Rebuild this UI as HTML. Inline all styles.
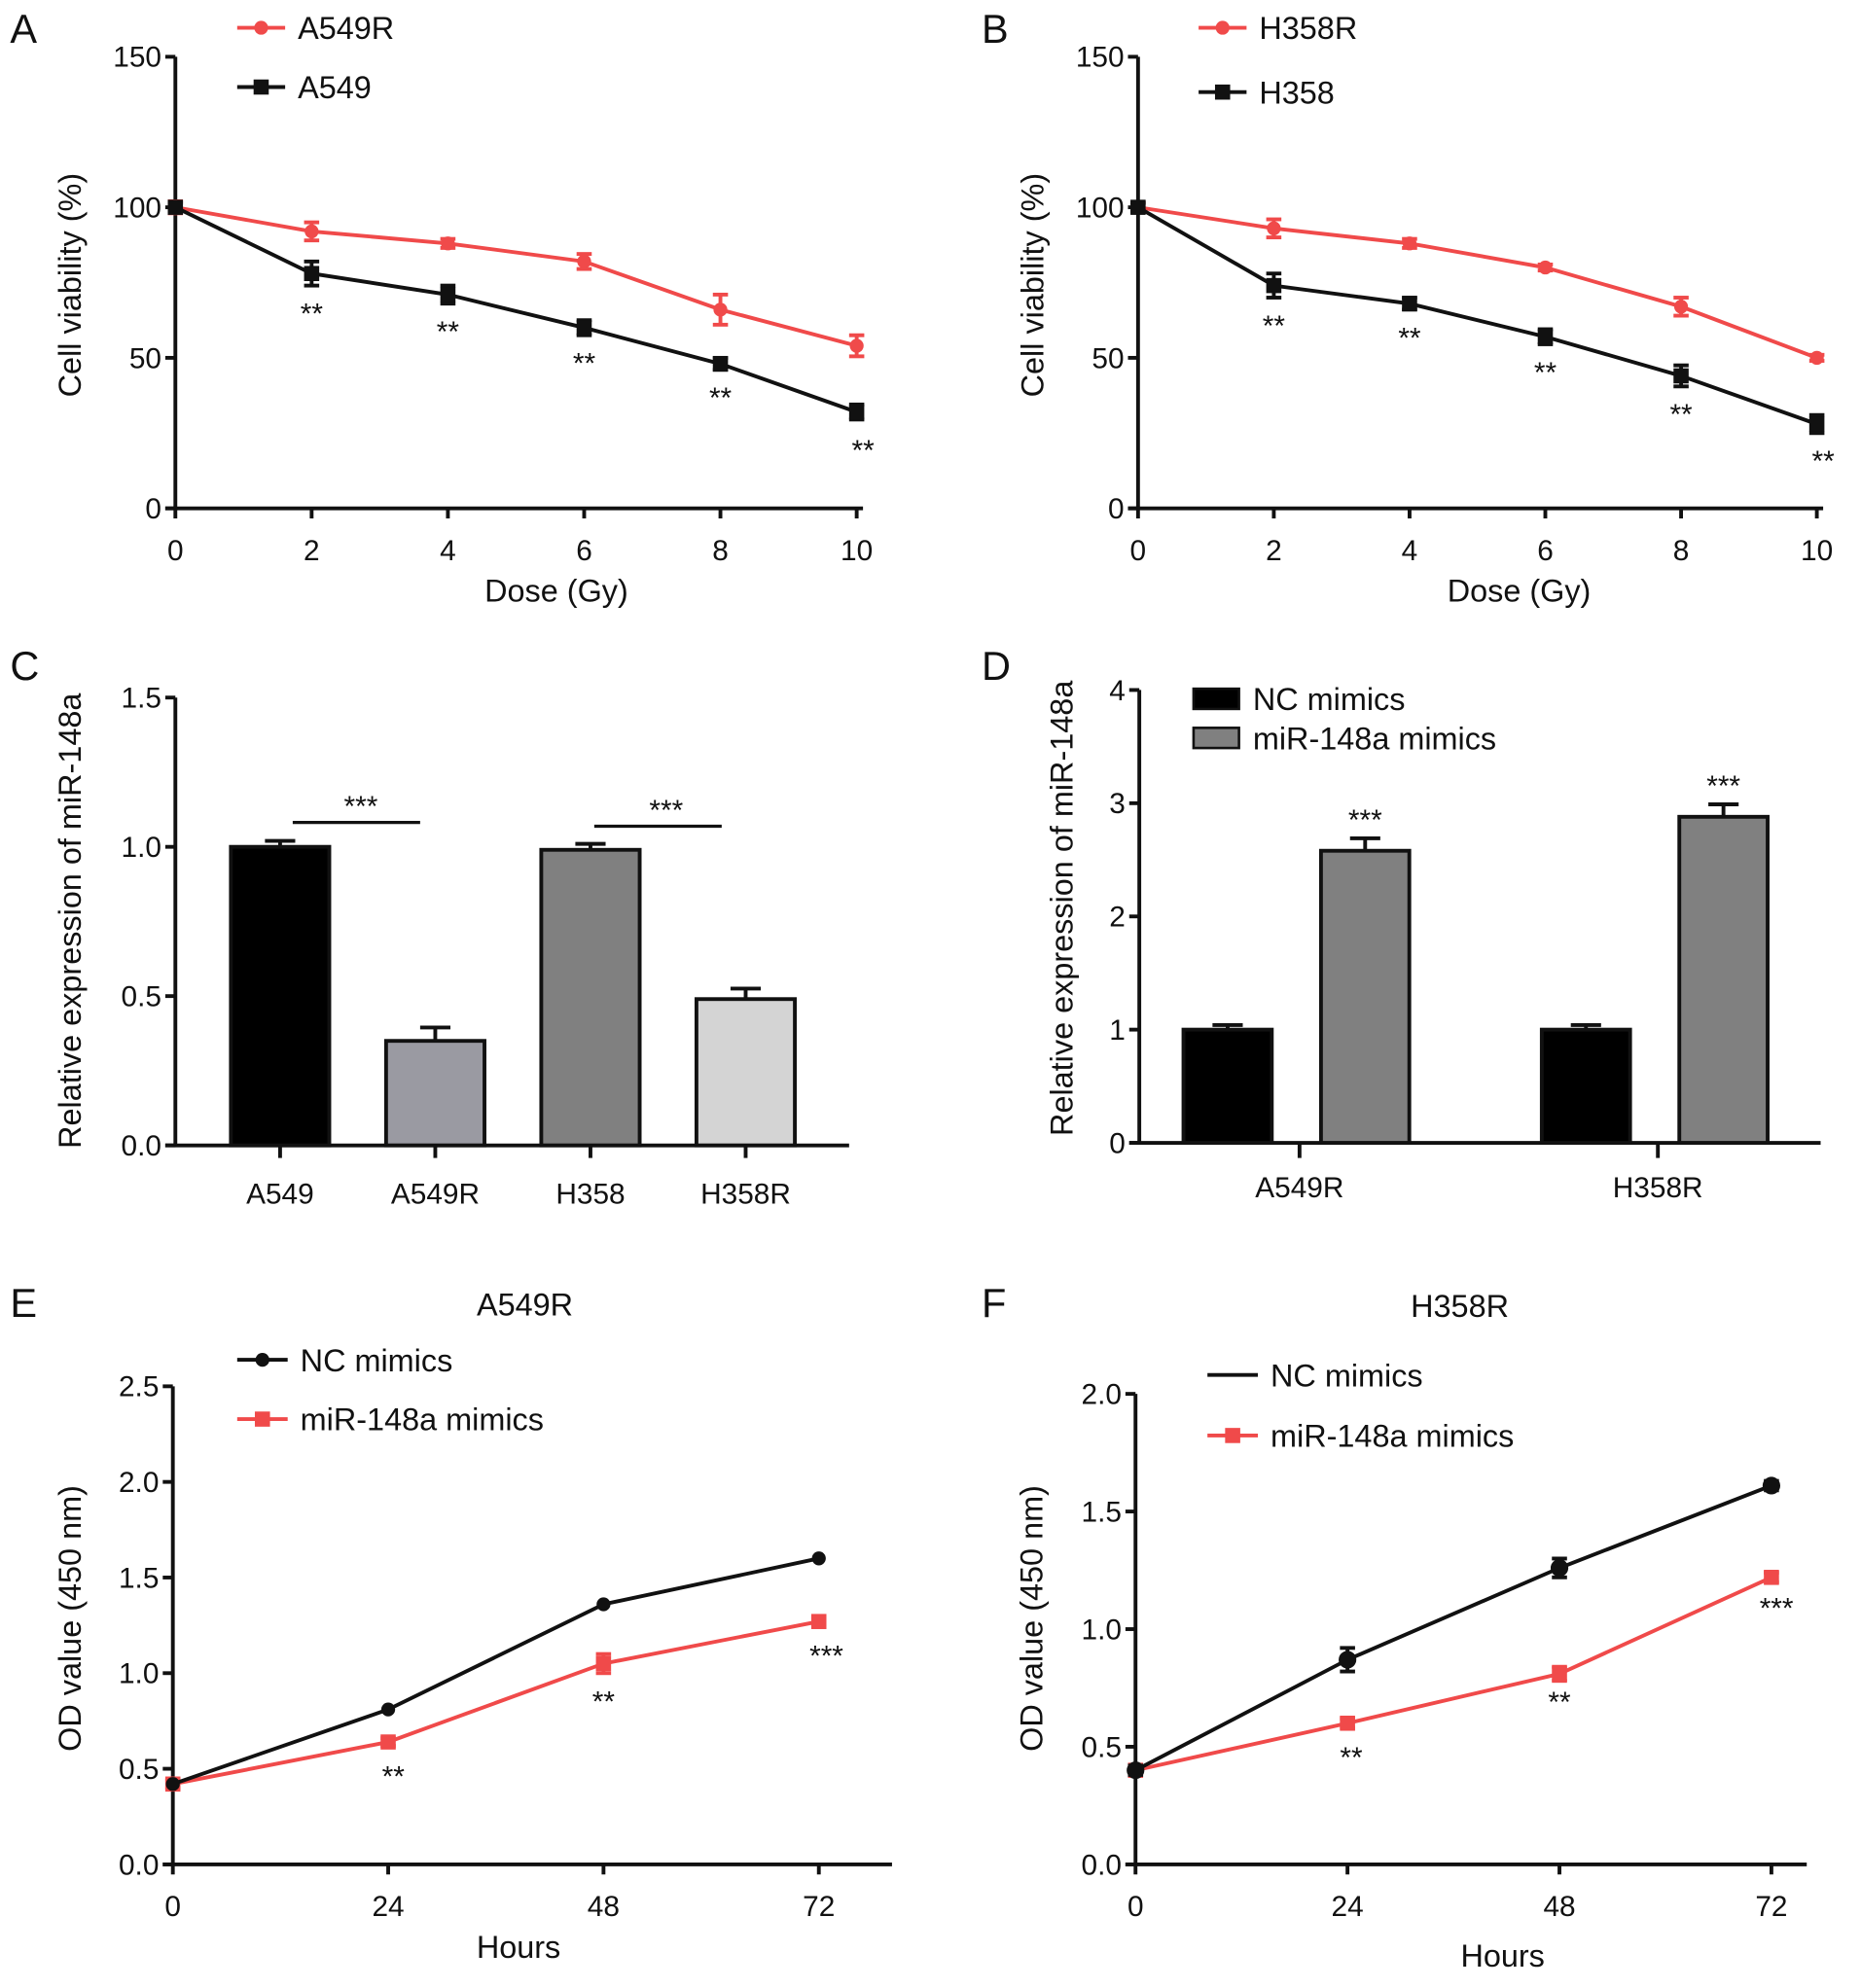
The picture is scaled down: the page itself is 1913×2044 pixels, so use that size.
<!DOCTYPE html>
<html><head><meta charset="utf-8"><style>
html,body{margin:0;padding:0;background:#fff;}
svg{display:block;font-family:"Liberation Sans",Arial,sans-serif;}
</style></head><body>
<svg id="fig" width="1913" height="2044" viewBox="0 0 1475 1576" xmlns="http://www.w3.org/2000/svg"></svg>
<script>
// Panel A
const doseTicks=[0,2,4,6,8,10];
const aResist=[100,92,88,82,66,54];
const aResistErr=[2,3,1.5,2.5,5,3.5];
const aParent=[100,78,71,60,48,32];
const aParentErr=[1.5,4,3,2.5,2,2.5];
// Panel B
const bResist=[100,93,88,80,67,50];
const bResistErr=[1.5,3,1.5,1,3,1];
const bParent=[100,74,68,57,44,28];
const bParentErr=[1.5,4,2,2.5,3.5,3];
const viabTicks=[0,50,100,150];
// Panel C
const cCats=["A549","A549R","H358","H358R"];
const cVals=[1.0,0.35,0.99,0.49];
const cErr=[0.02,0.045,0.02,0.035];
const cTicks=["0.0","0.5","1.0","1.5"];
// Panel D
const dCats=["A549R","H358R"];
const dNC=[1.0,1.0];
const dNCErr=[0.04,0.04];
const dMiR=[2.58,2.88];
const dMiRErr=[0.11,0.11];
const dTicks=[0,1,2,3,4];
// Panel E
const hourTicks=[0,24,48,72];
const eNC=[0.42,0.81,1.36,1.60];
const eMiR=[0.42,0.64,1.05,1.27];
const eMiRErr=[0.02,0.02,0.05,0.02];
const eTicks=["0.0","0.5","1.0","1.5","2.0","2.5"];
// Panel F
const fNC=[0.40,0.87,1.26,1.61];
const fNCErr=[0.02,0.05,0.04,0.02];
const fMiR=[0.40,0.60,0.81,1.22];
const fMiRErr=[0.02,0.02,0.03,0.02];
const fTicks=["0.0","0.5","1.0","1.5","2.0"];

const NS="http://www.w3.org/2000/svg";
const svg=document.getElementById('fig');
const RED="#f04a4a";
const TICK=23, TITLE=25, LEG=25;
function mk(tag,attrs,parent){const e=document.createElementNS(NS,tag);for(const k in attrs)e.setAttribute(k,attrs[k]);(parent||svg).appendChild(e);return e;}
function txt(s,x,y,size,anchor,parent,extra){const t=mk('text',Object.assign({x:x,y:y,'font-size':size,'text-anchor':anchor||'middle',fill:'#111'},extra||{}),parent);t.textContent=s;return t;}
function grp(name){const g=mk('g',{});return g;}
function lin(d0,d1,p0,p1){return v=>p0+(v-d0)/(d1-d0)*(p1-p0);}

function axes(g,x0,x1,yTop,yBot,yTickVals,yTickLabels,ys){
  const a=mk('line',{x1:x0,y1:yTop,x2:x0,y2:yBot,stroke:'#111','stroke-width':3},g);
  
  const b=mk('line',{x1:x0-8,y1:yBot,x2:x1,y2:yBot,stroke:'#111','stroke-width':3},g);
  
  yTickVals.forEach((v,i)=>{const y=ys(v);mk('line',{x1:x0-8,y1:y,x2:x0,y2:y,stroke:'#111','stroke-width':3},g);
    const t=txt(yTickLabels[i],x0-11,y+8,TICK,'end',g);});
}
function ytitle(g,s,x,y){const t=txt(s,x,y,TITLE,'middle',g,{transform:`rotate(-90 ${x} ${y})`});}
function errbar(g,x,yv,ye,ys,color,w){const y1=ys(yv+ye),y2=ys(yv-ye);
  mk('line',{x1:x,y1:y1,x2:x,y2:y2,stroke:color,'stroke-width':3},g);
  mk('line',{x1:x-w,y1:y1,x2:x+w,y2:y1,stroke:color,'stroke-width':3},g);
  mk('line',{x1:x-w,y1:y2,x2:x+w,y2:y2,stroke:color,'stroke-width':3},g);}
function series(g,xsV,vals,errs,xs,ys,color,marker,name){
  const sg=mk('g',{},g);
  mk('polyline',{points:vals.map((v,i)=>xs(xsV[i])+','+ys(v)).join(' '),fill:'none',stroke:color,'stroke-width':3},sg);
  vals.forEach((v,i)=>{const x=xs(xsV[i]),y=ys(v);
    if(errs)errbar(sg,x,v,errs[i],ys,color,6);
    let m;
    if(marker==='sq')m=mk('rect',{x:x-6,y:y-6,width:12,height:12,fill:color},sg);
    else m=mk('circle',{cx:x,cy:y,r:marker==='bigc'?7:5.5,fill:color},sg);
    });
}
function legendLine(g,x0,x1,y,color,marker,label){
  const lg=mk('g',{},g);
  mk('line',{x1:x0,y1:y,x2:x1,y2:y,stroke:color,'stroke-width':3},lg);
  const cx=(x0+x1)/2;
  if(marker==='sq')mk('rect',{x:cx-6,y:y-6,width:12,height:12,fill:color},lg);
  else if(marker==='c')mk('circle',{cx:cx,cy:y,r:5.5,fill:color},lg);
  txt(label,x1+10,y+9,LEG,'start',lg);}
function stars(g,s,x,y){const t=txt(s,x,y,23,'middle',g);}
function panelLetter(s,x,y){const t=txt(s,x,y,32,'start');}
function xtickLabels(g,vals,xs,yBot){vals.forEach(v=>{const x=xs(v);mk('line',{x1:x,y1:yBot,x2:x,y2:yBot+8,stroke:'#111','stroke-width':3},g);
  const t=txt(String(v),x,yBot+41,TICK,'middle',g);});}

// ---------- Panel A & B ----------
function dosePanel(name,x0,x1,res,resE,par,parE,resName,parName,lx0,ly1,ly2,starOff,ytx){
  const g=grp(name);
  const xs=lin(0,10,x0,x1), ys=lin(0,150,403,45);
  axes(g,x0,x1+5,45,403,viabTicks,viabTicks.map(String),ys);
  xtickLabels(g,doseTicks,xs,403);
  const xt=txt('Dose (Gy)',x0+302,477,TITLE,'middle',g);
  ytitle(g,'Cell viability (%)',ytx,226);
  series(g,doseTicks,res,resE,xs,ys,RED,'c',resName+'-series');
  series(g,doseTicks,par,parE,xs,ys,'#111','sq',parName+'-series');
  for(let i=1;i<doseTicks.length;i++){stars(g,'**',xs(doseTicks[i])+(i===5?5:0),ys(par[i]-parE[i])+starOff[i-1]);}
  legendLine(g,lx0,lx0+38,ly1,RED,'c',resName);
  legendLine(g,lx0,lx0+38,ly2,'#111','sq',parName);
}
panelLetter('A',8,34);panelLetter('B',778,34);
dosePanel('panel-a-chart',139,679,aResist,aResistErr,aParent,aParentErr,'A549R','A549',188,22,69,[30,30,30,30,32],64);
dosePanel('panel-b-chart',902,1440,bResist,bResistErr,bParent,bParentErr,'H358R','H358',950,22,73,[30,30,30,30,30],827);

// ---------- Panel C ----------
(function(){
  panelLetter('C',8,539);
  const g=grp('panel-c-chart');
  const ys=lin(0,1.5,908,553);
  const cx=[222,345,468,591];
  const fills=['#000','#9a9aa2','#808080','#d4d4d4'];
  axes(g,139,673,553,908,cTicks.map(Number),cTicks,ys);
  cVals.forEach((v,i)=>{const x=cx[i];
    errbar(g,x,v,cErr[i],ys,'#111',12);
    const r=mk('rect',{x:x-39,y:ys(v),width:78,height:908-ys(v),fill:fills[i],stroke:'#111','stroke-width':3},g);
    
    mk('line',{x1:x,y1:908,x2:x,y2:918,stroke:'#111','stroke-width':3},g);
    const t=txt(cCats[i],x,954,TICK,'middle',g);});
  const s1=mk('line',{x1:232,y1:652,x2:333,y2:652,stroke:'#111','stroke-width':2.5},g);
  const s2=mk('line',{x1:471,y1:655,x2:572,y2:655,stroke:'#111','stroke-width':2.5},g);
  stars(g,'***',286,647);stars(g,'***',528,650);
  ytitle(g,'Relative expression of miR-148a',64,730);
})();

// ---------- Panel D ----------
(function(){
  panelLetter('D',778,539);
  const g=grp('panel-d-chart');
  const ys=lin(0,4,906,547);
  const gx=[1030,1314];
  axes(g,903,1443,547,906,dTicks,dTicks.map(String),ys);
  dCats.forEach((c,i)=>{
    const xa=gx[i]-57, xb=gx[i]+52;
    errbar(g,xa,dNC[i],dNCErr[i],ys,'#111',12);
    errbar(g,xb,dMiR[i],dMiRErr[i],ys,'#111',12);
    const r1=mk('rect',{x:xa-35,y:ys(dNC[i]),width:70,height:906-ys(dNC[i]),fill:'#000',stroke:'#111','stroke-width':3},g);
    
    const r2=mk('rect',{x:xb-35,y:ys(dMiR[i]),width:70,height:906-ys(dMiR[i]),fill:'#808080',stroke:'#111','stroke-width':3},g);
    
    stars(g,'***',xb,ys(dMiR[i]+dMiRErr[i])-7);
    mk('line',{x1:gx[i],y1:906,x2:gx[i],y2:918,stroke:'#111','stroke-width':3},g);
    const t=txt(c,gx[i],949,TICK,'middle',g);});
  const l1=mk('g',{},g);
  mk('rect',{x:946,y:546,width:36,height:16,fill:'#000',stroke:'#111','stroke-width':2},l1);txt('NC mimics',993,563,LEG,'start',l1);
  const l2=mk('g',{},g);
  mk('rect',{x:946,y:577,width:36,height:16,fill:'#808080',stroke:'#111','stroke-width':2},l2);txt('miR-148a mimics',993,594,LEG,'start',l2);
  ytitle(g,'Relative expression of miR-148a',850,720);
})();

// ---------- Panel E & F ----------
function hourPanel(name,x0,x1,xEnd,yTop,yMax,ticks,nc,ncE,mir,mirE,ncMarker,title,tx,ty,lx,ly1,ly2,ncLegMarker,starPos,yTitleX,hoursX,hoursY){
  const g=grp(name);
  const xs=lin(0,72,x0,x1), ys=lin(0,yMax,1478,yTop);
  axes(g,x0,xEnd,yTop,1478,ticks.map(Number),ticks,ys);
  xtickLabels(g,hourTicks,xs,1478);
  const xt=txt('Hours',hoursX,hoursY,TITLE,'middle',g);
  const tt=txt(title,tx,ty,TITLE,'middle',g);
  ytitle(g,'OD value (450 nm)',yTitleX,1283);
  series(g,hourTicks,mir,mirE,xs,ys,RED,'sq','mir-148a-mimics-series');
  series(g,hourTicks,nc,ncE,xs,ys,'#111',ncMarker,'nc-mimics-series');
  for(let i=1;i<4;i++){stars(g,i===3?'***':'**',xs(hourTicks[i])+starPos[i-1][0],ys(mir[i])+starPos[i-1][1]);}
  legendLine(g,lx,lx+40,ly1,'#111',ncLegMarker,'NC mimics');
  legendLine(g,lx,lx+40,ly2,RED,'sq','miR-148a mimics');
}
panelLetter('E',8,1044);panelLetter('F',778,1044);
hourPanel('panel-e-chart',137,649,707,1099,2.5,eTicks,eNC,null,eMiR,eMiRErr,'c','A549R',416,1043,188,1078,1125,'c',[[4,35],[0,38],[6,35]],64,411,1552);
hourPanel('panel-f-chart',900,1404,1432,1105,2.0,fTicks,fNC,fNCErr,fMiR,fMiRErr,'bigc','H358R',1157,1044,957,1090,1138,'none',[[3,35],[0,30],[4,32]],826,1191,1559);
</script>
</body></html>
